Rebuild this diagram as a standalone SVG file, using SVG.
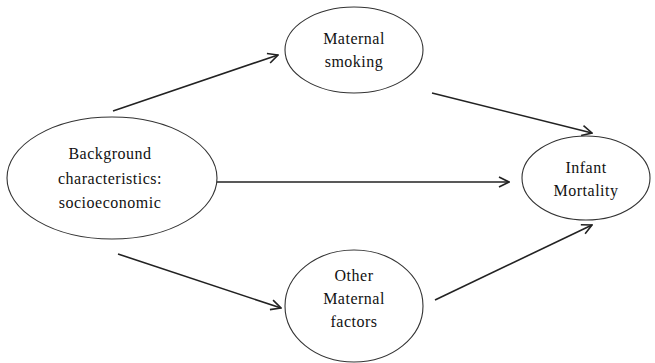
<svg xmlns="http://www.w3.org/2000/svg" width="655" height="363" viewBox="0 0 655 363">
<style>
.node ellipse{fill:#fff;stroke:#333;stroke-width:1.1}
.node text{font-family:'Liberation Serif','DejaVu Serif',serif;font-size:16px;letter-spacing:0.5px;fill:#111;text-anchor:middle}
.edges line{stroke:#222;stroke-width:1.6;fill:none}
</style>
<defs>
<marker id="arr" viewBox="0 0 12 12" refX="11" refY="6" markerWidth="12" markerHeight="12" markerUnits="userSpaceOnUse" orient="auto">
<path d="M1,1 L11,6 L1,11" fill="none" stroke="#222" stroke-width="1.6"/>
</marker>
</defs>
<rect width="655" height="363" fill="#fff"/>
<g id="edges" class="edges">
<line x1="113" y1="111" x2="278" y2="55" marker-end="url(#arr)"/>
<line x1="432" y1="93" x2="592" y2="133" marker-end="url(#arr)"/>
<line x1="217" y1="182" x2="509" y2="182" marker-end="url(#arr)"/>
<line x1="118" y1="254" x2="281" y2="308" marker-end="url(#arr)"/>
<line x1="435" y1="300" x2="592" y2="225" marker-end="url(#arr)"/>
</g>
<g id="background" class="node">
<ellipse cx="112" cy="178" rx="105" ry="61"/>
<text x="110" y="159" font-family="Liberation Serif, serif">Background</text>
<text x="110" y="184" font-family="Liberation Serif, serif">characteristics:</text>
<text x="110" y="208" font-family="Liberation Serif, serif">socioeconomic</text>
</g>
<g id="smoking" class="node">
<ellipse cx="354" cy="50" rx="69" ry="43"/>
<text x="354" y="44">Maternal</text>
<text x="354" y="67">smoking</text>
</g>
<g id="other" class="node">
<ellipse cx="354" cy="306" rx="69" ry="56"/>
<text x="354" y="281">Other</text>
<text x="354" y="304">Maternal</text>
<text x="354" y="327">factors</text>
</g>
<g id="mortality" class="node">
<ellipse cx="586" cy="178" rx="64" ry="42"/>
<text x="586" y="173">Infant</text>
<text x="586" y="196">Mortality</text>
</g>
</svg>
